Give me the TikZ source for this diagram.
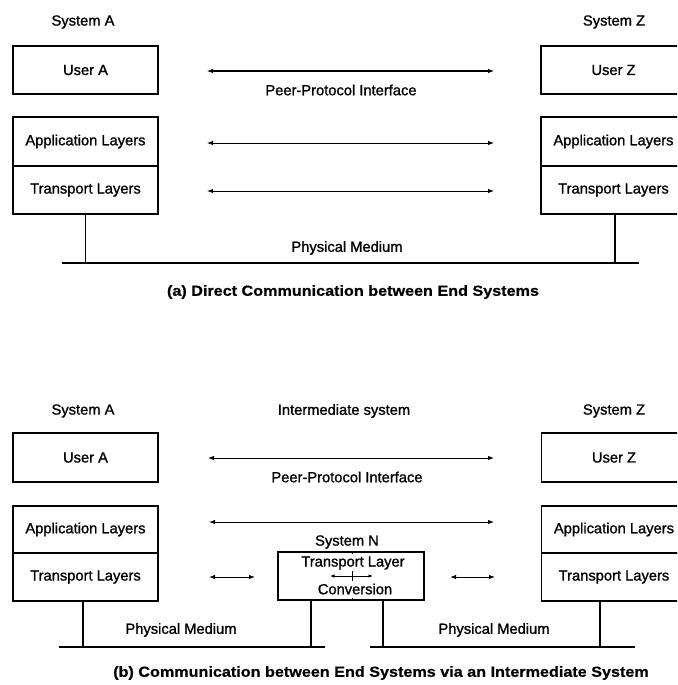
\documentclass[tikz,border=0pt]{standalone}
\usepackage{fontspec}
\setmainfont{Liberation Sans}
\newfontfamily\lblfamily[FakeBold=1.2]{Liberation Sans}
\newfontfamily\capfont[FakeStretch=1.1,FakeBold=0.6]{Liberation Sans Bold}
\usetikzlibrary{arrows.meta}

\newcommand{\lblfont}{\lblfamily\fontsize{14.7}{17}\selectfont}
\newcommand{\capsize}{\capfont\fontsize{14.7}{17}\selectfont}

\tikzset{
  box/.style={draw, line width=1.1pt, minimum width=145pt, minimum height=48pt,
              inner sep=0pt, font=\lblfont},
  nbox/.style={draw, line width=1.1pt, minimum width=146pt, minimum height=48pt,
              inner sep=0pt},
  lbl/.style={inner sep=0pt, font=\lblfont},
  captext/.style={inner sep=0pt, font=\capsize},
  conn/.style={line width=1pt, {Latex[length=6pt,width=4.5pt]}-{Latex[length=6pt,width=4.5pt]}},
  wire/.style={line width=1.1pt},
  medium/.style={line width=1.4pt}
}

\begin{document}
\begin{tikzpicture}[x=1pt,y=-1pt]
\useasboundingbox (0,0) rectangle (677,685);
\clip (0,0) rectangle (677,685);

% ---------------- (a) direct communication ----------------
\node[lbl] (sysA1) at (83,22) {System A};
\node[lbl] (sysZ1) at (614,22) {System Z};

\node[box] (userA1) at (85.5,70) {User A};
\node[box, minimum height=49pt] (appA1) at (85.5,141.5) {Application Layers};
\node[box] (trA1) at (85.5,190) {Transport Layers};

\node[box] (userZ1) at (613.5,70) {User Z};
\node[box, minimum height=49pt] (appZ1) at (613.5,141.5) {Application Layers};
\node[box] (trZ1) at (613.5,190) {Transport Layers};

\coordinate (u1L) at (207,71);  \coordinate (u1R) at (494,71);
\coordinate (a1L) at (207,143); \coordinate (a1R) at (494,143);
\coordinate (t1L) at (207,191); \coordinate (t1R) at (494,191);
\draw[conn] (u1L) -- (u1R);
\draw[conn] (a1L) -- (a1R);
\draw[conn] (t1L) -- (t1R);
\node[lbl] (ppi1) at (341,90) {Peer-Protocol Interface};

\coordinate (m1L) at (62,263); \coordinate (m1R) at (639,263);
\draw[medium] (m1L) -- (m1R);
\draw[wire] (trA1.south) -- (trA1.south |- m1L);
\draw[wire] (trZ1.south) ++(1.5,0) coordinate (z1s) -- (z1s |- m1L);
\node[lbl] (phy1) at (347,248) {Physical Medium};

\node[captext] (capA) at (353,292) {(a) Direct Communication between End Systems};

% ---------------- (b) via an intermediate system ----------------
\node[lbl] (sysA2) at (83,411) {System A};
\node[lbl] (sysI2) at (344,411) {Intermediate system};
\node[lbl] (sysZ2) at (614,411) {System Z};

\node[box, minimum height=49pt] (userA2) at (85.5,457.5) {User A};
\node[box, minimum height=47pt] (appA2) at (85.5,529.5) {Application Layers};
\node[box] (trA2) at (85.5,577) {Transport Layers};

\node[box, minimum height=49pt] (userZ2) at (614,457.5) {User Z};
\node[box, minimum height=47pt] (appZ2) at (614,529.5) {Application Layers};
\node[box] (trZ2) at (614,577) {Transport Layers};

\coordinate (u2L) at (208,458); \coordinate (u2R) at (494,458);
\coordinate (a2L) at (209,522); \coordinate (a2R) at (494,522);
\draw[conn] (u2L) -- (u2R);
\draw[conn] (a2L) -- (a2R);
\node[lbl] (ppi2) at (347,477) {Peer-Protocol Interface};

% intermediate system N
\node[lbl] (sysN) at (347,542) {System N};
\node[nbox] (boxN) at (351,576) {};
\node[lbl] (convT) at (353,563) {Transport Layer};
\node[lbl] (convB) at (355,589) {Conversion};
\coordinate (cL) at (330,576); \coordinate (cR) at (373,576);
\draw[line width=0.9pt, {Latex[length=4.5pt,width=3.5pt]}-{Latex[length=4.5pt,width=3.5pt]}] (cL) -- (cR);
\draw[line width=0.9pt] (352,571) -- (352,581);
\draw[line width=0.9pt] (boxN.north) ++(1,0) -- ++(0,3);
\draw[line width=0.9pt] (boxN.south) ++(1,0) -- ++(0,-3);

\coordinate (t2aL) at (209,577); \coordinate (t2aR) at (255,577);
\coordinate (t2bL) at (450,577); \coordinate (t2bR) at (495,577);
\draw[conn] (t2aL) -- (t2aR);
\draw[conn] (t2bL) -- (t2bR);

\coordinate (m2aL) at (59,647);  \coordinate (m2aR) at (325,647);
\coordinate (m2bL) at (370,647); \coordinate (m2bR) at (635,647);
\draw[medium] (m2aL) -- (m2aR);
\draw[medium] (m2bL) -- (m2bR);
\draw[wire] (trA2.south) ++(-2.5,0) coordinate (a2s) -- (a2s |- m2aL);
\draw[wire] (boxN.south) ++(-40,0) coordinate (n2l) -- (n2l |- m2aL);
\draw[wire] (boxN.south) ++(32,0) coordinate (n2r) -- (n2r |- m2bL);
\draw[wire] (trZ2.south) ++(-14,0) coordinate (z2s) -- (z2s |- m2bL);
\node[lbl] (phy2a) at (181,630) {Physical Medium};
\node[lbl] (phy2b) at (494,630) {Physical Medium};

\node[captext] (capB) at (381,673) {(b) Communication between End Systems via an Intermediate System};
\end{tikzpicture}
\end{document}
